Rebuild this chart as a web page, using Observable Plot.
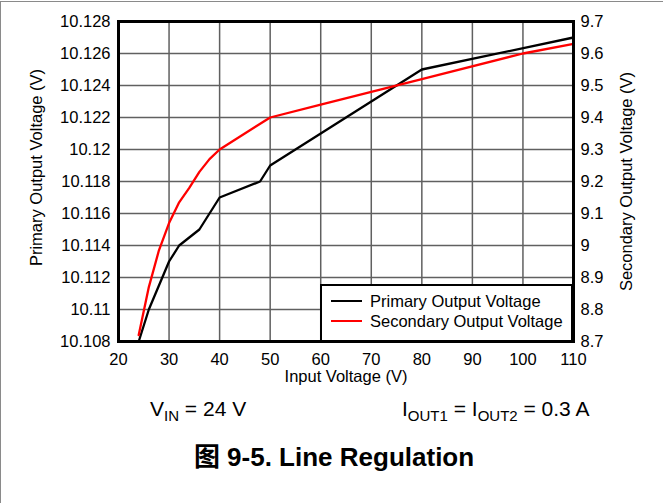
<!DOCTYPE html>
<html><head><meta charset="utf-8">
<script src="https://cdn.jsdelivr.net/npm/d3@7"></script>
<script src="https://cdn.jsdelivr.net/npm/@observablehq/plot@0.6"></script>
<style>
body{margin:0;background:#fff;font-family:"Liberation Sans",Arial,"Noto Sans CJK SC",sans-serif;color:#000;}
#wrap{position:relative;width:663px;height:503px;overflow:hidden;background:#fff;}
#border{position:absolute;left:0;top:1px;width:700px;height:600px;border-left:1.5px solid #8a8a8a;border-top:1.5px solid #8a8a8a;pointer-events:none;}
#chart{position:absolute;left:0;top:0;}
#legend{position:absolute;left:320px;top:284px;width:249px;height:54px;border:2px solid #000;background:#fff;font-size:16.5px;}
.row{position:absolute;left:0;height:20px;line-height:20px;white-space:nowrap;}
.sw{position:absolute;left:9px;top:9px;width:31px;height:2px;}
.lt{position:absolute;left:48px;top:0;}
.note{position:absolute;font-size:21px;white-space:nowrap;}
.note sub{font-size:15px;vertical-align:-5px;line-height:0;}
#cap{position:absolute;left:0;width:668px;text-align:center;top:436px;font-size:26px;font-weight:bold;font-family:"Liberation Sans","Noto Sans CJK SC",sans-serif;}
</style></head><body>
<div id="wrap">
  <div id="chart"></div>
  <div id="legend"></div>
  <div class="note" style="left:150px;top:397px;">V<sub>IN</sub> = 24 V</div>
  <div class="note" style="left:402px;top:397px;">I<sub>OUT1</sub> = I<sub>OUT2</sub> = 0.3 A</div>
  <div id="cap">图 9-5. Line Regulation</div>
  <div id="border"></div>
</div>
<script>
// Input voltage (V) for the primary output curve
const primaryVin = [24, 26, 30, 32, 36, 40, 48, 50, 80, 110];
// Primary output voltage (V)
const primaryVout = [10.108, 10.110, 10.113, 10.114, 10.115, 10.117, 10.118, 10.119, 10.125, 10.127];
// Input voltage (V) for the secondary output curve
const secondaryVin = [24, 26, 28, 30, 32, 34, 36, 38, 40, 50, 60, 70, 80, 100, 110];
// Secondary output voltage (V)
const secondaryVout = [8.72, 8.87, 8.985, 9.07, 9.135, 9.18, 9.23, 9.27, 9.30, 9.40, 9.44, 9.48, 9.52, 9.60, 9.63];

const xTicks = [20, 30, 40, 50, 60, 70, 80, 90, 100, 110];
const primaryTicks = [10.108, 10.110, 10.112, 10.114, 10.116, 10.118, 10.120, 10.122, 10.124, 10.126, 10.128];
const primaryTickLabels = ["10.108","10.11","10.112","10.114","10.116","10.118","10.12","10.122","10.124","10.126","10.128"];
const secondaryTicks = [8.7, 8.8, 8.9, 9.0, 9.1, 9.2, 9.3, 9.4, 9.5, 9.6, 9.7];
const secondaryTickLabels = ["8.7","8.8","8.9","9","9.1","9.2","9.3","9.4","9.5","9.6","9.7"];

const seriesNames = ["Primary Output Voltage", "Secondary Output Voltage"];
const seriesColors = ["#000000", "#ff0000"];

// map secondary axis (8.7..9.7) onto the primary scale (10.108..10.128)
const secLo = 8.7, secHi = 9.7, priLo = 10.108, priHi = 10.128;
const toPrimary = v => priLo + (v - secLo) * (priHi - priLo) / (secHi - secLo);

const primary = primaryVin.map((x, i) => ({x, y: primaryVout[i]}));
const secondary = secondaryVin.map((x, i) => ({x, y: toPrimary(secondaryVout[i])}));
const secPos = secondaryTicks.map(toPrimary);

const chart = Plot.plot({
  width: 663, height: 390,
  marginLeft: 118, marginRight: 90, marginTop: 21, marginBottom: 49,
  style: {fontFamily: "Liberation Sans, Arial, sans-serif", fontSize: "16.5px", color: "#000", background: "transparent"},
  x: {domain: [20, 110]},
  y: {domain: [priLo, priHi]},
  marks: [
    Plot.gridX(xTicks.slice(1, -1), {stroke: "#606060", strokeWidth: 1.5, strokeOpacity: 1}),
    Plot.gridY(primaryTicks.slice(1, -1), {stroke: "#606060", strokeWidth: 1.5, strokeOpacity: 1}),
    Plot.line(primary, {x: "x", y: "y", stroke: seriesColors[0], strokeWidth: 2.3}),
    Plot.line(secondary, {x: "x", y: "y", stroke: seriesColors[1], strokeWidth: 2.3}),
    Plot.frame({stroke: "#000", strokeWidth: 3}),
    Plot.axisX({ticks: xTicks, tickSize: 0, tickPadding: 12, label: "Input Voltage (V)", labelAnchor: "center", labelOffset: 40, labelArrow: "none"}),
    Plot.axisY({ticks: primaryTicks, tickSize: 0, tickPadding: 8,
      tickFormat: d => primaryTickLabels[Math.round((d - priLo) / 0.002)],
      label: "Primary Output Voltage (V)", labelAnchor: "center", labelOffset: 88, labelArrow: "none"}),
    Plot.axisY({anchor: "right", ticks: secPos, tickSize: 0, tickPadding: 7,
      tickFormat: d => secondaryTickLabels[Math.round((d - priLo) / 0.002)],
      label: "Secondary Output Voltage (V)", labelAnchor: "center", labelOffset: 58, labelArrow: "none"})
  ]
});
// the reference's left axis title sits slightly above the plot centre
const yLabels = chart.querySelectorAll('g[aria-label="y-axis label"]');
if (yLabels.length) {
  const g = yLabels[0];
  const t = g.getAttribute("transform") || "";
  g.setAttribute("transform", (t + " translate(0,-14)").trim());
}
document.getElementById("chart").appendChild(chart);

const leg = document.getElementById("legend");
seriesNames.forEach((name, i) => {
  const row = document.createElement("div");
  row.className = "row";
  row.style.top = (5 + i * 20) + "px";
  row.style.width = "100%";
  row.innerHTML = `<div class="sw" style="background:${seriesColors[i]}"></div><div class="lt">${name}</div>`;
  leg.appendChild(row);
});
</script>
</body></html>
